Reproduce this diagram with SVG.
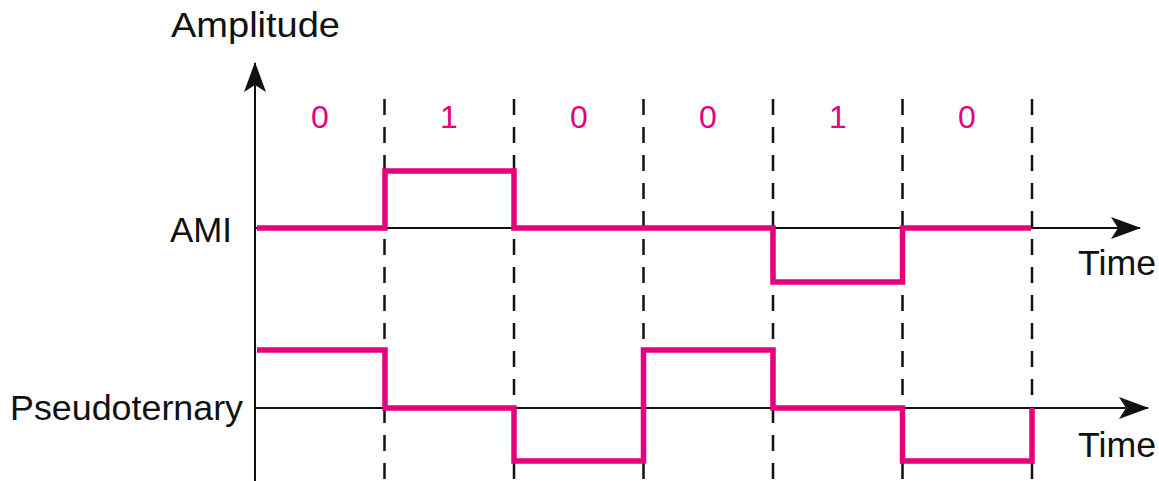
<svg xmlns="http://www.w3.org/2000/svg" width="1159" height="481" viewBox="0 0 1159 481">
<style>
.lbl{font-family:"Liberation Sans",Arial,sans-serif;font-size:35px;fill:#111}
.bit{font-family:"Liberation Sans",Arial,sans-serif;font-size:32px;fill:#E6007E;text-anchor:middle}
.axis{stroke:#111;stroke-width:2;fill:none}
.dash{stroke:#111;stroke-width:2.5;stroke-dasharray:16 12;fill:none}
.sig{stroke:#E6007E;stroke-width:5.5;fill:none;stroke-linejoin:miter;stroke-linecap:butt}
</style>
<defs>
<marker id="ah" markerUnits="userSpaceOnUse" viewBox="0 0 30 22" refX="29" refY="11" markerWidth="30" markerHeight="22" orient="auto">
<path d="M0,0 L30,11 L0,22 L7,11 Z" fill="#111"/>
</marker>
</defs>
<rect width="1159" height="481" fill="#fff"/>
<g id="grid">
<line class="dash" x1="384.5" y1="99" x2="384.5" y2="481"/>
<line class="dash" x1="514" y1="99" x2="514" y2="481"/>
<line class="dash" x1="643.5" y1="99" x2="643.5" y2="481"/>
<line class="dash" x1="773" y1="99" x2="773" y2="481"/>
<line class="dash" x1="902.5" y1="99" x2="902.5" y2="481"/>
<line class="dash" x1="1032" y1="99" x2="1032" y2="481"/>
</g>
<g id="axes">
<line class="axis" x1="255" y1="481" x2="255" y2="63" marker-end="url(#ah)"/>
<line class="axis" x1="255" y1="228" x2="1140" y2="228" marker-end="url(#ah)"/>
<line class="axis" x1="255" y1="408" x2="1148" y2="408" marker-end="url(#ah)"/>
</g>
<g id="ami-signal">
<path class="sig" d="M257,228 H385 V171 H514 V228 H773 V282 H902.5 V228 H1031"/>
</g>
<g id="pseudoternary-signal">
<path class="sig" d="M257,350 H385 V408 H514 V461 H643.5 V350 H773 V408 H902.5 V461 H1032 V408"/>
</g>
<g id="bits">
<text class="bit" x="320" y="128">0</text>
<text class="bit" x="449" y="128">1</text>
<text class="bit" x="579" y="128">0</text>
<text class="bit" x="708" y="128">0</text>
<text class="bit" x="838" y="128">1</text>
<text class="bit" x="967" y="128">0</text>
</g>
<g id="labels">
<text class="lbl" x="171" y="37" textLength="169" lengthAdjust="spacingAndGlyphs">Amplitude</text>
<text class="lbl" x="170" y="242" textLength="62" lengthAdjust="spacingAndGlyphs">AMI</text>
<text class="lbl" x="10" y="420" textLength="233" lengthAdjust="spacingAndGlyphs">Pseudoternary</text>
<text class="lbl" x="1078" y="275" textLength="78" lengthAdjust="spacingAndGlyphs">Time</text>
<text class="lbl" x="1078" y="457" textLength="78" lengthAdjust="spacingAndGlyphs">Time</text>
</g>
</svg>
